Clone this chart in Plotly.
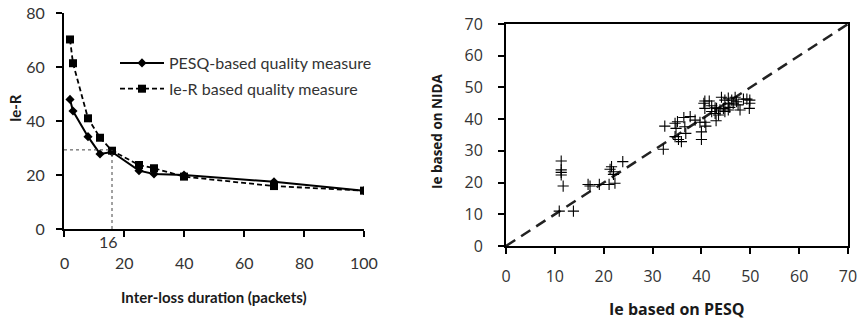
import plotly.graph_objects as go

# ---- Left chart data ----
inter_loss = [2, 3, 8, 12, 16, 25, 30, 40, 70, 100]
pesq_ie = [48, 43.7, 34.2, 27.8, 28.5, 21.6, 20.4, 20.0, 17.5, 14.2]
ier_ie = [70.2, 61.4, 41.0, 33.8, 29.0, 23.7, 22.5, 19.4, 15.9, 14.2]
left_xticks = [0, 20, 40, 60, 80, 100]
left_yticks = [0, 20, 40, 60, 80]
ref_x = 16
ref_y = 29.3

# ---- Right chart data ----
ie_pesq = [11.3, 11.3, 11.3, 11.3, 11.7, 10.9, 13.8, 16.8, 17.2, 19.1, 21.1, 22.3,
           21.3, 21.6, 22.0, 22.0, 23.9, 32.2, 32.5, 34.6, 35.1, 34.8, 36.6, 34.6,
           35.3, 35.9, 36.8, 36.4, 37.7, 38.7, 39.7, 40.7, 40.9, 40.0, 40.0, 40.5,
           40.7, 40.7, 41.6, 42.1, 42.1, 42.8, 43.1, 43.5, 43.0, 43.8, 44.1, 44.8,
           45.5, 45.5, 45.8, 46.2, 46.5, 46.9, 44.5, 44.8, 45.5, 47.2, 47.5, 47.9,
           48.6, 49.3, 49.9, 49.9, 49.8, 42.8]
ie_nida = [26.8, 24.0, 23.2, 22.4, 18.9, 11.0, 11.0, 19.4, 18.9, 19.4, 19.4, 19.8,
           24.2, 25.0, 23.4, 22.6, 26.6, 30.5, 37.8, 38.7, 39.2, 37.1, 37.6, 34.5,
           33.6, 32.9, 35.5, 40.5, 40.8, 39.7, 39.0, 39.0, 37.8, 36.0, 33.6, 45.0,
           43.4, 45.7, 45.7, 44.2, 42.4, 41.8, 43.4, 41.3, 39.5, 42.9, 46.9, 46.0,
           46.6, 44.8, 43.7, 46.0, 45.0, 46.9, 43.4, 42.4, 42.9, 45.5, 44.5, 42.9,
           46.3, 46.3, 46.0, 45.0, 43.4, 43.6]
diag = [0, 70]
right_ticks = [0, 10, 20, 30, 40, 50, 60, 70]

W, H = 862, 320
def px(v):
    return v / W
def py(v):
    return (H - v) / H

LFONT = "Lato"
RFONT = "Open Sans"
TXT = "#1a1a1a"
TICK = "#333"

fig = go.Figure()

fig.add_trace(go.Scatter(
    x=inter_loss, y=pesq_ie, mode="lines+markers",
    name="PESQ-based quality measure", legendgroup="a",
    line=dict(color="black", width=2),
    marker=dict(symbol="diamond", size=7, color="black"),
    xaxis="x", yaxis="y"))
fig.add_trace(go.Scatter(
    x=inter_loss, y=ier_ie, mode="lines+markers",
    name="Ie-R based quality measure", legendgroup="b",
    line=dict(color="black", width=1.8, dash="5px,3px"),
    marker=dict(symbol="square", size=8, color="black"),
    xaxis="x", yaxis="y"))

fig.add_trace(go.Scatter(
    x=diag, y=diag, mode="lines", showlegend=False,
    line=dict(color="#222", width=2.5, dash="11px,7px"),
    xaxis="x2", yaxis="y2"))
fig.add_trace(go.Scatter(
    x=ie_pesq, y=ie_nida, mode="markers", showlegend=False,
    marker=dict(symbol="cross-thin", size=8, line=dict(color="black", width=1.1)),
    xaxis="x2", yaxis="y2"))

# reference dotted lines at x=16
fig.add_shape(type="line", xref="x", yref="y", x0=0, x1=ref_x, y0=ref_y, y1=ref_y,
              line=dict(color="#444", width=1, dash="dot"))
fig.add_shape(type="line", xref="x", yref="y", x0=ref_x, x1=ref_x, y0=0, y1=ref_y,
              line=dict(color="#444", width=1, dash="dot"))

axis_common = dict(showgrid=False, zeroline=False, showline=True, linecolor="black",
                   linewidth=2, ticks="outside", ticklen=6, tickwidth=2, tickcolor="black",
                   automargin=False)

fig.update_layout(
    width=W, height=H,
    margin=dict(l=0, r=0, t=0, b=0, autoexpand=False),
    paper_bgcolor="white", plot_bgcolor="white",
    xaxis=dict(domain=[px(64), px(364)], range=[0, 100], tickvals=left_xticks,
               anchor="y", showticklabels=False, **axis_common),
    yaxis=dict(domain=[py(229), py(13)], range=[0, 80], tickvals=left_yticks,
               anchor="x", ticklabelstandoff=8,
               tickfont=dict(family=LFONT, size=16, color=TICK), **axis_common),
    xaxis2=dict(domain=[px(506), px(848)], range=[0, 70], tickvals=right_ticks,
                anchor="y2", mirror=True, ticklabelstandoff=9,
                tickfont=dict(family=RFONT, size=16, color=TICK), **axis_common),
    yaxis2=dict(domain=[py(246), py(24)], range=[0, 70], tickvals=right_ticks,
                anchor="x2", mirror=True, ticklabelstandoff=12,
                tickfont=dict(family=RFONT, size=16, color=TICK), **axis_common),
    legend=dict(x=px(115), y=py(46), xanchor="left", yanchor="top",
                traceorder="grouped", tracegroupgap=2, itemwidth=44,
                font=dict(family=LFONT, size=16, color=TICK),
                bgcolor="rgba(0,0,0,0)"),
    showlegend=True,
)

annotations = []
# left x-axis tick labels (placed lower, below the "16" marker label)
for v in left_xticks:
    annotations.append(dict(text=str(v), x=v, y=py(262), xref="x", yref="paper",
                            xanchor="center", yanchor="middle", showarrow=False,
                            font=dict(family=LFONT, size=16, color=TICK)))
annotations += [
    dict(text=str(ref_x), x=px(108), y=py(241), xref="paper", yref="paper",
         xanchor="center", yanchor="middle",
         showarrow=False, font=dict(family=LFONT, size=16, color=TICK)),
    dict(text="<b>Ie-R</b>", x=px(15), y=py(108), xref="paper", yref="paper",
         xanchor="center", yanchor="middle",
         textangle=-90, showarrow=False, font=dict(family=LFONT, size=15, color=TXT)),
    dict(text="<b>Inter-loss duration (packets)</b>", x=px(214), y=py(297),
         xref="paper", yref="paper", xanchor="center", yanchor="middle", showarrow=False,
         font=dict(family=LFONT, size=15, color=TXT)),
    dict(text="<b>Ie based on NIDA</b>", x=px(437), y=py(131), xref="paper", yref="paper",
         xanchor="center", yanchor="middle",
         textangle=-90, showarrow=False, font=dict(family=RFONT, size=13.5, color=TXT)),
    dict(text="<b>Ie based on PESQ</b>", x=px(677), y=py(309), xref="paper", yref="paper",
         xanchor="center", yanchor="middle",
         showarrow=False, font=dict(family=RFONT, size=16, color=TXT)),
]
fig.update_layout(annotations=annotations)

fig.write_html("out.html", config={"displayModeBar": False},
               post_script="document.body.style.margin='0px';")
